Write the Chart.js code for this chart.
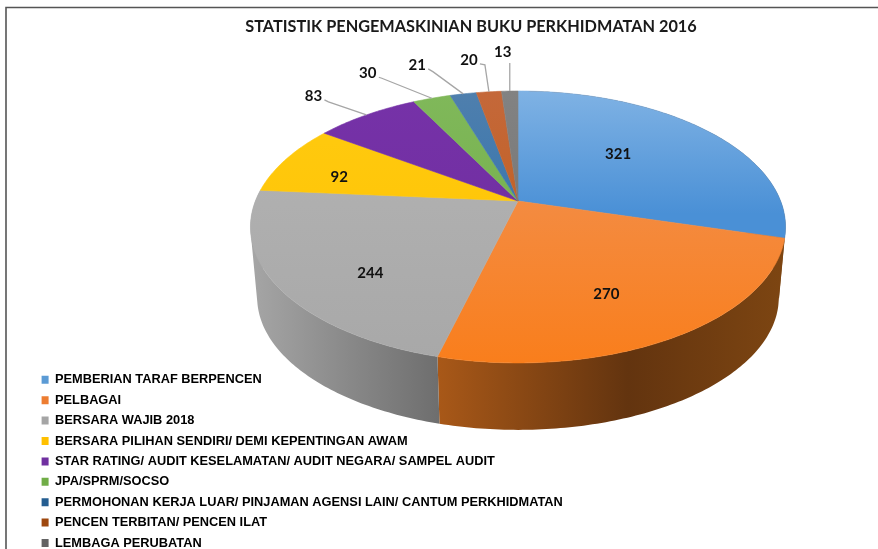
<!DOCTYPE html>
<html><head><meta charset="utf-8">
<style>html,body{margin:0;padding:0;background:#fff}#w{position:relative;width:878px;height:549px}canvas{display:block}</style>
<script src="https://cdn.jsdelivr.net/npm/chart.js@4"></script>
</head><body><div id="w"><canvas id="c" width="878" height="549"></canvas></div>
<script>
const titleText = 'STATISTIK PENGEMASKINIAN BUKU PERKHIDMATAN 2016';
const categories = ['PEMBERIAN TARAF BERPENCEN','PELBAGAI','BERSARA WAJIB 2018','BERSARA PILIHAN SENDIRI/ DEMI KEPENTINGAN AWAM','STAR RATING/ AUDIT KESELAMATAN/ AUDIT NEGARA/ SAMPEL AUDIT','JPA/SPRM/SOCSO','PERMOHONAN KERJA LUAR/ PINJAMAN AGENSI LAIN/ CANTUM PERKHIDMATAN','PENCEN TERBITAN/ PENCEN ILAT','LEMBAGA PERUBATAN'];
const values = [321,270,244,92,83,30,21,20,13];
const legendColors = ['#5B9BD5','#ED7D31','#A5A5A5','#FFC000','#7030A0','#70AD47','#255E91','#9E480E','#636363'];

// styling of the 3D faces: [far colour, near colour] of each top face
const topShades = [['#7FB2E4','#4A90D6'],['#F0945A','#F97E1C'],['#B4B4B4','#A8A8A8'],['#FFCB10','#FFC000'],['#7632A8','#6C2C9C'],['#80B85A','#6EAC45'],['#4F7FAD','#1F6CB0'],['#C4683A','#C05A10'],['#828282','#6E6E6E']];

// projection of the flat pie into the tilted view
const P = {cx:518, cy:201, a:131, b:262.6, k:0.191, wallCy:272, wallScale:0.975};
function proj(theta, r, top){
  const x=Math.cos(theta)*r, y=Math.sin(theta)*r, d=1-P.k*y;
  const s=top?1:P.wallScale, cy=top?P.cy:P.wallCy;
  return [P.cx+s*P.b*x/d, cy+s*P.a*y/d];
}
function arcPts(a0,a1,top){
  const n=Math.max(2,Math.ceil((a1-a0)/0.015)), out=[];
  for(let i=0;i<=n;i++) out.push(proj(a0+(a1-a0)*i/n,1,top));
  return out;
}
function wallGrad(ctx,i){
  const g=ctx.createLinearGradient(250,0,790,0);
  if(i===2){ g.addColorStop(0,'#A6A6A6'); g.addColorStop(0.35,'#6E6E6E'); g.addColorStop(1,'#6E6E6E'); }
  else { g.addColorStop(0,'#B2601C'); g.addColorStop(0.35,'#A85818'); g.addColorStop(0.7,'#63340F'); g.addColorStop(1,'#7E4612'); }
  return g;
}
// label placement: inner labels = [radius factor, dx, dy]; outer labels = leader bend points and text offset
const innerR = {0:[0.62,-21,-1],1:[0.6,1,18],2:[0.6,-10,23],3:[0.72,-9,7]};
const leaderOut = {
  4:{pts:[[-38,-13],[-42,-15]],text:[-11,-4]},
  5:{pts:[[-50,-20],[-53,-21]],text:[-11,-4]},
  6:{pts:[[-30,-22],[-35,-25]],text:[-11,-4]},
  7:{pts:[[-4,-27],[-9,-28]],text:[-11,-4]},
  8:{pts:[[0,-28]],text:[-7,-11]}
};

const pie3d = {
  id:'pie3d',
  beforeDatasetsDraw(chart){
    const ctx=chart.ctx, arcs=chart.getDatasetMeta(0).data;
    ctx.save();
    // side walls: the slices facing the viewer, one path of thin strips filled at once,
    // every strip wound the same way so that the nonzero fill makes a union of them
    arcs.forEach((arc,i)=>{
      if(i>2) return;
      const t=arcPts(arc.startAngle,arc.endAngle,true), b=arcPts(arc.startAngle,arc.endAngle,false);
      ctx.beginPath();
      for(let j=0;j<t.length-1;j++){
        let q=[t[j],t[j+1],b[j+1],b[j]], area=0;
        q.forEach((p,m)=>{const n=q[(m+1)%4]; area+=p[0]*n[1]-n[0]*p[1];});
        if(area<0) q=q.reverse();
        q.forEach((p,m)=>m?ctx.lineTo(p[0],p[1]):ctx.moveTo(p[0],p[1]));
        ctx.closePath();
      }
      ctx.fillStyle=wallGrad(ctx,i); ctx.fill('nonzero');
    });
    // top faces
    arcs.forEach((arc,i)=>{
      const pts=arcPts(arc.startAngle,arc.endAngle,true);
      ctx.beginPath(); ctx.moveTo(P.cx,P.cy); pts.forEach(p=>ctx.lineTo(p[0],p[1])); ctx.closePath();
      const g=ctx.createLinearGradient(0,91,0,363);
      g.addColorStop(0,topShades[i][0]);
      g.addColorStop(i===0?0.45:1,topShades[i][1]);
      ctx.fillStyle=g; ctx.fill();
      ctx.strokeStyle=g; ctx.lineWidth=0.6; ctx.stroke();
    });
    // leader lines and value labels
    ctx.textAlign='center'; ctx.textBaseline='middle';
    ctx.font='bold 15px "Lato","Open Sans",sans-serif';
    arcs.forEach((arc,i)=>{
      const mid=(arc.startAngle+arc.endAngle)/2;
      let tx,ty;
      if(innerR[i]){
        const p=proj(mid,innerR[i][0],true); tx=p[0]+innerR[i][1]; ty=p[1]+innerR[i][2];
      } else {
        const e=proj(mid,1,true), o=leaderOut[i];
        ctx.beginPath(); ctx.moveTo(e[0],e[1]);
        o.pts.forEach(s=>ctx.lineTo(e[0]+s[0],e[1]+s[1]));
        ctx.strokeStyle='#A6A6A6'; ctx.lineWidth=1.3; ctx.stroke();
        const last=o.pts[o.pts.length-1];
        tx=e[0]+last[0]+o.text[0]; ty=e[1]+last[1]+o.text[1];
      }
      ctx.fillStyle='#111';
      ctx.fillText(String(values[i]),tx,ty);
    });
    ctx.restore();
    return false;
  },
  beforeDraw(chart){
    const ctx=chart.ctx;
    ctx.save();
    ctx.fillStyle='#fff'; ctx.fillRect(0,0,chart.width,chart.height);
    ctx.strokeStyle='#555'; ctx.lineWidth=1.6;
    ctx.beginPath(); ctx.moveTo(878,7.5); ctx.lineTo(6,7.5); ctx.lineTo(6,549); ctx.stroke();
    ctx.restore();
  }
};

new Chart(document.getElementById('c'),{
  type:'pie',
  data:{labels:categories,datasets:[{data:values,backgroundColor:legendColors,borderWidth:0}]},
  plugins:[pie3d],
  options:{
    responsive:false,animation:false,
    layout:{padding:{left:34,top:9,bottom:-8,right:-30}},
    plugins:{
      tooltip:{enabled:false},
      title:{display:true,text:titleText,color:'#1a1a1a',align:'center',padding:{top:8,bottom:0},
        font:{family:'"Lato","Open Sans",sans-serif',size:16.3,weight:'bold'}},
      legend:{position:'left',align:'end',maxWidth:560,
        labels:{boxWidth:7,boxHeight:8,padding:7.6,color:'#000',
          font:{family:'"Liberation Sans",Arial,sans-serif',size:12.8,weight:'bold'}}}
    }
  }
});
</script></body></html>
